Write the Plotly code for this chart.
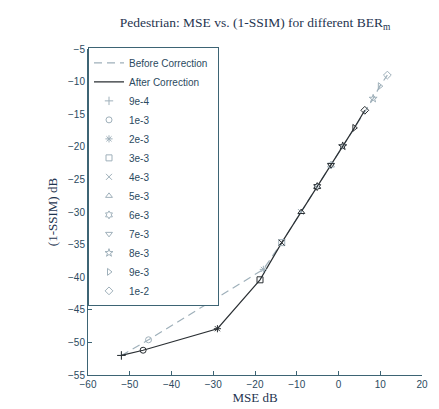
import plotly.graph_objects as go

ber_labels = ["9e-4", "1e-3", "2e-3", "3e-3", "4e-3", "5e-3", "6e-3", "7e-3", "8e-3", "9e-3", "1e-2"]
ber_symbols = ["cross-thin", "circle-open", "asterisk-open", "square-open", "x-thin", "triangle-up-open",
               "hexagram-open", "triangle-down-open", "star-open", "triangle-right-open", "diamond-open"]

mse_before = [-52.0, -45.5, -18.0, -13.6, -9.0, -5.1, -1.8, 1.0, 8.3, 9.9, 11.7]
ssim_before = [-52.0, -49.6, -38.8, -34.7, -30.0, -26.1, -22.8, -19.9, -12.6, -10.7, -9.0]

mse_after = [-52.0, -46.8, -29.0, -18.8, -13.6, -8.9, -5.1, -1.8, 1.0, 3.8, 6.3]
ssim_after = [-52.0, -51.2, -47.9, -40.4, -34.7, -30.0, -26.1, -22.8, -19.9, -17.1, -14.4]

x_ticks = [-60, -50, -40, -30, -20, -10, 0, 10, 20]
y_ticks = [-5, -10, -15, -20, -25, -30, -35, -40, -45, -50, -55]

axis_col = "#3d6474"
gray = "#9fb0ba"
dark = "#2a2f33"
txt = "#2b4a60"

# page body has an 8px default margin, so the figure is drawn 8px smaller and offset
W, H = 431, 401

fig = go.Figure()

fig.add_trace(go.Scatter(x=mse_before, y=ssim_before, mode="lines", name="Before Correction\u00a0\u00a0",
                         line=dict(color=gray, width=1.2, dash="8px,5px")))
fig.add_trace(go.Scatter(x=mse_after, y=ssim_after, mode="lines", name="After Correction",
                         line=dict(color=dark, width=1.2)))

for i, lab in enumerate(ber_labels):
    fig.add_trace(go.Scatter(x=[mse_before[i]], y=[ssim_before[i]], mode="markers", showlegend=False,
                             marker=dict(symbol=ber_symbols[i], size=6, color=gray,
                                         line=dict(color=gray, width=1))))
    fig.add_trace(go.Scatter(x=[mse_after[i]], y=[ssim_after[i]], mode="markers", showlegend=False,
                             marker=dict(symbol=ber_symbols[i], size=6, color=dark,
                                         line=dict(color=dark, width=1))))
    fig.add_trace(go.Scatter(x=[None], y=[None], mode="markers", name=lab,
                             marker=dict(symbol=ber_symbols[i], size=6, color=gray,
                                         line=dict(color=gray, width=1))))

fig.update_layout(
    width=W, height=H,
    margin=dict(l=80, r=17, t=41, b=34, autoexpand=False),
    paper_bgcolor="white", plot_bgcolor="white",
    title=dict(text="Pedestrian: MSE vs. (1-SSIM) for different BER<sub>m</sub>",
               x=247 / W, xanchor="center", y=1 - 14 / H, yanchor="middle",
               xref="container", yref="container", automargin=False,
               font=dict(family="Liberation Serif", size=13.5, color="#1f3550")),
    font=dict(family="Liberation Sans", size=10, color=txt),
    showlegend=True,
    legend=dict(x=0.0, y=1.005, xanchor="left", yanchor="top",
                bgcolor="white", bordercolor=axis_col, borderwidth=1,
                font=dict(family="Liberation Sans", size=10, color=txt),
                tracegroupgap=0, itemwidth=30, maxheight=330),
)

fig.update_xaxes(range=[-60, 20], tickvals=x_ticks, ticks="inside", ticklen=4, tickcolor=axis_col,
                 showline=True, linecolor=axis_col, linewidth=1, showgrid=False, zeroline=False,
                 automargin=False,
                 tickfont=dict(family="Liberation Sans", size=10, color=txt),
                 title=dict(text="MSE dB", standoff=3,
                            font=dict(family="Liberation Serif", size=13, color="#1f3550")))
fig.update_yaxes(range=[-55, -5], tickvals=y_ticks, ticks="inside", ticklen=4, tickcolor=axis_col,
                 showline=True, linecolor=axis_col, linewidth=1, showgrid=False, zeroline=False,
                 automargin=False,
                 tickfont=dict(family="Liberation Sans", size=10, color=txt),
                 title=dict(text="(1-SSIM) dB", standoff=7,
                            font=dict(family="Liberation Serif", size=13, color="#1f3550")))

fig.write_html("out.html")
